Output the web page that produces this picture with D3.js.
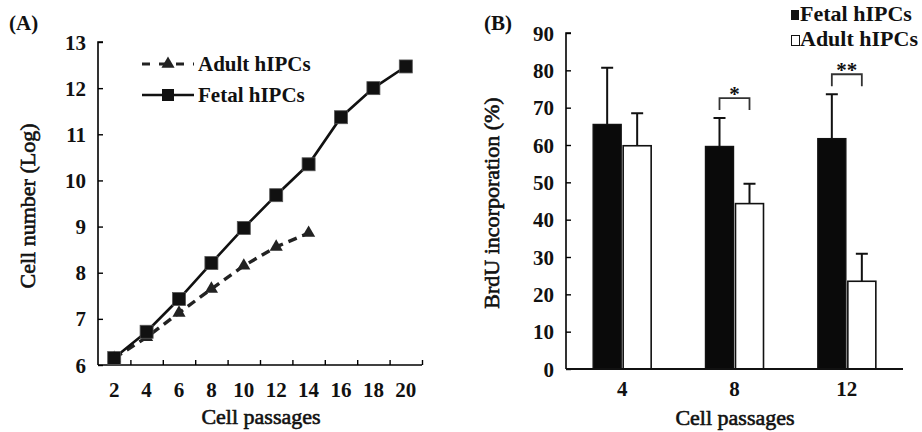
<!DOCTYPE html>
<html>
<head>
<meta charset="utf-8">
<script src="https://cdn.jsdelivr.net/npm/d3@7"></script>
<style>
  body { margin: 0; background: #fff; }
  svg text { font-family: "Liberation Serif", "Times New Roman", serif; fill: #111; }
  .ttl { stroke: #111; stroke-width: 0.6px; }
</style>
</head>
<body>
<svg id="chart" width="922" height="432"></svg>
<script>
// panel A: growth curves
var passagesA = [2, 4, 6, 8, 10, 12, 14, 16, 18, 20];
var fetalLog = [6.15, 6.72, 7.43, 8.21, 8.97, 9.68, 10.35, 11.37, 12.0, 12.47];
var adultPassages = [2, 4, 6, 8, 10, 12, 14];
var adultLog = [6.15, 6.6, 7.13, 7.65, 8.15, 8.56, 8.86];
var yTicksA = [6, 7, 8, 9, 10, 11, 12, 13];

// panel B: BrdU incorporation
var passagesB = [4, 8, 12];
var fetalBrdU = [65.5, 59.6, 61.7];
var fetalErr = [15.2, 7.6, 11.9];
var adultBrdU = [59.8, 44.3, 23.5];
var adultErr = [8.7, 5.3, 7.4];
var yTicksB = [0, 10, 20, 30, 40, 50, 60, 70, 80, 90];
var signif = [{ passage: 8, mark: "*" }, { passage: 12, mark: "**" }];

var svg = d3.select("#chart");
var tickFs = 21;

// ---------- Panel A ----------
var xA = d3.scaleLinear().domain([1, 21]).range([98, 422]);
var yA = d3.scaleLinear().domain([6, 13]).range([365, 42]);

var gA = svg.append("g");

gA.append("g")
  .attr("transform", "translate(" + xA(1) + ",0)")
  .call(d3.axisRight(yA).tickValues(yTicksA).tickSize(5).tickFormat(d3.format("d")))
  .call(function(g) {
    g.select(".domain").attr("stroke-width", 1.6).attr("d", "M5," + yA(13) + "H0V" + yA(6));
    g.selectAll(".tick line").attr("stroke-width", 1.4);
    g.selectAll(".tick text").attr("x", -12).attr("text-anchor", "end")
      .attr("font-size", tickFs).attr("font-weight", "bold").attr("dy", "0.34em");
  });

gA.append("g")
  .attr("transform", "translate(0," + yA(6) + ")")
  .call(d3.axisTop(xA).tickValues(d3.range(3, 22, 2)).tickSize(5).tickFormat(""))
  .call(function(g) {
    g.select(".domain").attr("stroke-width", 1.6).attr("d", "M" + xA(1) + ",0H" + xA(21));
    g.selectAll(".tick line").attr("stroke-width", 1.4);
  });

gA.selectAll(".xlabA").data(passagesA).enter().append("text")
  .attr("x", function(d) { return xA(d); })
  .attr("y", 397)
  .attr("text-anchor", "middle")
  .attr("font-size", tickFs).attr("font-weight", "bold")
  .text(function(d) { return d; });

var lineA = d3.line().x(function(d) { return xA(d[0]); }).y(function(d) { return yA(d[1]); });

gA.append("path")
  .datum(d3.zip(adultPassages, adultLog))
  .attr("d", lineA)
  .attr("fill", "none").attr("stroke", "#222").attr("stroke-width", 3.4)
  .attr("stroke-dasharray", "9,6");

gA.append("path")
  .datum(d3.zip(passagesA, fetalLog))
  .attr("d", lineA)
  .attr("fill", "none").attr("stroke", "#111").attr("stroke-width", 2.6);

var tri = d3.symbol().type(d3.symbolTriangle).size(75);
gA.selectAll(".tri").data(d3.zip(adultPassages, adultLog)).enter().append("path")
  .attr("d", tri)
  .attr("transform", function(d) { return "translate(" + xA(d[0]) + "," + yA(d[1]) + ")"; })
  .attr("fill", "#222");

gA.selectAll(".sq").data(d3.zip(passagesA, fetalLog)).enter().append("rect")
  .attr("x", function(d) { return xA(d[0]) - 6.5; })
  .attr("y", function(d) { return yA(d[1]) - 6.5; })
  .attr("width", 13).attr("height", 13)
  .attr("fill", "#111").attr("stroke", "#555").attr("stroke-width", 0.8);

// legend A
var legA = gA.append("g").attr("transform", "translate(142,64)");
legA.append("line").attr("x1", 0).attr("x2", 52).attr("y1", 0).attr("y2", 0)
  .attr("stroke", "#222").attr("stroke-width", 3).attr("stroke-dasharray", "8,9");
legA.append("path").attr("d", tri).attr("transform", "translate(26,0)").attr("fill", "#222");
legA.append("text").attr("x", 56).attr("y", 7).attr("font-size", 21).attr("font-weight", "bold").text("Adult hIPCs");
legA.append("line").attr("x1", 0).attr("x2", 52).attr("y1", 31).attr("y2", 31)
  .attr("stroke", "#111").attr("stroke-width", 2.6);
legA.append("rect").attr("x", 20).attr("y", 25).attr("width", 12).attr("height", 12).attr("fill", "#111");
legA.append("text").attr("x", 56).attr("y", 38).attr("font-size", 21).attr("font-weight", "bold").text("Fetal hIPCs");

gA.append("text").attr("x", 9).attr("y", 30).attr("font-size", 21).attr("font-weight", "bold").text("(A)");
gA.append("text").attr("class", "ttl").attr("x", 261).attr("y", 424).attr("text-anchor", "middle")
  .attr("font-size", 22).text("Cell passages");
gA.append("text").attr("class", "ttl").attr("transform", "translate(35,206) rotate(-90)").attr("text-anchor", "middle")
  .attr("font-size", 22).text("Cell number (Log)");

// ---------- Panel B ----------
var xB = d3.scaleLinear().domain([2, 14]).range([566, 903]);
var yB = d3.scaleLinear().domain([0, 90]).range([369, 33]);
var barW = 28;

var gB = svg.append("g");

gB.append("g")
  .attr("transform", "translate(" + xB(2) + ",0)")
  .call(d3.axisRight(yB).tickValues(yTicksB).tickSize(5))
  .call(function(g) {
    g.select(".domain").attr("stroke-width", 1.6).attr("d", "M5," + yB(90) + "H0V" + yB(0));
    g.selectAll(".tick line").attr("stroke-width", 1.4);
    g.selectAll(".tick text").attr("x", -12).attr("text-anchor", "end")
      .attr("font-size", tickFs).attr("font-weight", "bold").attr("dy", "0.34em");
  });

// error bars (upward only)
function errBar(vals, errs, dx) {
  gB.selectAll(null).data(passagesB).enter().append("path")
    .attr("d", function(d, i) {
      var cx = xB(d) + dx, top = yB(vals[i] + errs[i]);
      return "M" + cx + "," + yB(vals[i]) + "V" + top + "M" + (cx - 6) + "," + top + "H" + (cx + 6);
    })
    .attr("fill", "none").attr("stroke", "#111").attr("stroke-width", 2);
}
errBar(fetalBrdU, fetalErr, -barW / 2 - 1);
errBar(adultBrdU, adultErr, barW / 2 + 1);

gB.selectAll(".fb").data(passagesB).enter().append("rect")
  .attr("x", function(d) { return xB(d) - barW - 1; })
  .attr("y", function(d, i) { return yB(fetalBrdU[i]); })
  .attr("width", barW)
  .attr("height", function(d, i) { return yB(0) - yB(fetalBrdU[i]); })
  .attr("fill", "#0a0a0a").attr("stroke", "#111").attr("stroke-width", 1.4);

gB.selectAll(".ab").data(passagesB).enter().append("rect")
  .attr("x", function(d) { return xB(d) + 1; })
  .attr("y", function(d, i) { return yB(adultBrdU[i]); })
  .attr("width", barW)
  .attr("height", function(d, i) { return yB(0) - yB(adultBrdU[i]); })
  .attr("fill", "#fff").attr("stroke", "#111").attr("stroke-width", 1.6);

gB.append("line").attr("x1", xB(2)).attr("x2", xB(14)).attr("y1", yB(0)).attr("y2", yB(0))
  .attr("stroke", "#111").attr("stroke-width", 1.8);

gB.selectAll(".xlabB").data(passagesB).enter().append("text")
  .attr("x", function(d) { return xB(d); })
  .attr("y", 396).attr("text-anchor", "middle")
  .attr("font-size", tickFs).attr("font-weight", "bold")
  .text(function(d) { return d; });

// significance brackets
signif.forEach(function(s) {
  var i = passagesB.indexOf(s.passage);
  var top = yB(Math.max(fetalBrdU[i] + fetalErr[i], adultBrdU[i] + adultErr[i])) - 20;
  var xl = xB(s.passage) - barW / 2 - 1, xr = xB(s.passage) + barW / 2 + 1;
  gB.append("path")
    .attr("d", "M" + xl + "," + (top + 12) + "V" + top + "H" + xr + "V" + (top + 12))
    .attr("fill", "none").attr("stroke", "#333").attr("stroke-width", 1.8);
  gB.append("text").attr("x", xB(s.passage)).attr("y", top + 3).attr("text-anchor", "middle")
    .attr("font-size", 21).attr("font-weight", "bold").attr("fill", "#333").text(s.mark);
});

// legend B
var legB = gB.append("g").attr("transform", "translate(791,0)");
legB.append("rect").attr("x", 0).attr("y", 10).attr("width", 8).attr("height", 10).attr("fill", "#111");
legB.append("text").attr("x", 9).attr("y", 21).attr("font-size", 22).attr("font-weight", "bold").text("Fetal hIPCs");
legB.append("rect").attr("x", 0.5).attr("y", 35.5).attr("width", 8).attr("height", 10)
  .attr("fill", "#fff").attr("stroke", "#111").attr("stroke-width", 1);
legB.append("text").attr("x", 9).attr("y", 46).attr("font-size", 22).attr("font-weight", "bold").text("Adult hIPCs");

gB.append("text").attr("x", 484).attr("y", 30).attr("font-size", 21).attr("font-weight", "bold").text("(B)");
gB.append("text").attr("class", "ttl").attr("x", 735).attr("y", 425).attr("text-anchor", "middle")
  .attr("font-size", 22).text("Cell passages");
gB.append("text").attr("class", "ttl").attr("transform", "translate(499,203) rotate(-90)").attr("text-anchor", "middle")
  .attr("font-size", 22).text("BrdU incorporation (%)");
</script>
</body>
</html>
